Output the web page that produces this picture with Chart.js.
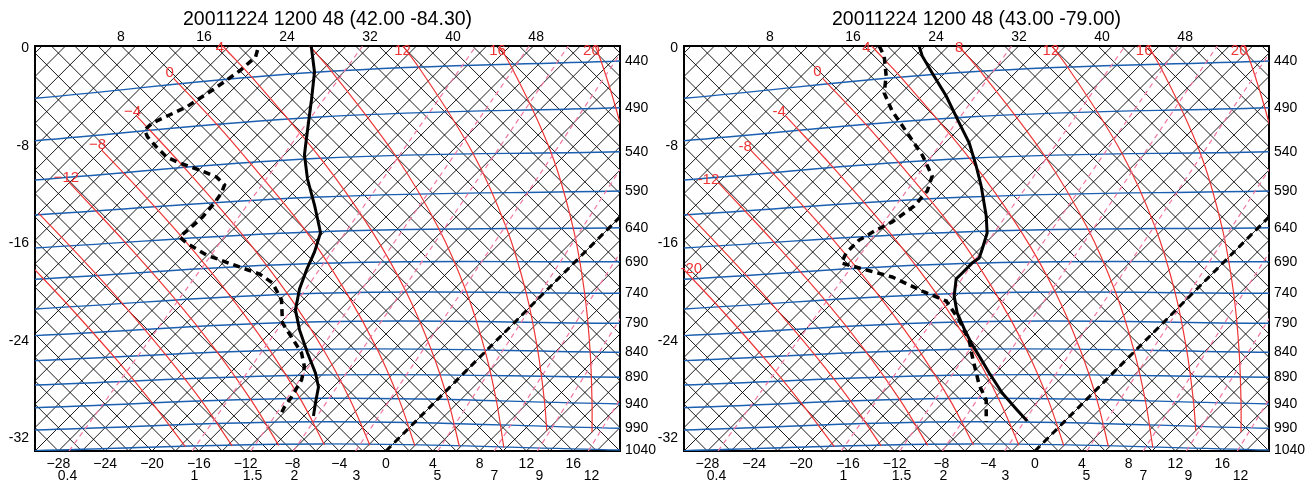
<!DOCTYPE html>
<html>
<head>
<meta charset="utf-8">
<title>Sondeos 20011224</title>
<script src="https://cdn.jsdelivr.net/npm/chart.js@4/dist/chart.umd.min.js"></script>
<style>
  body { margin: 0; background: #fff; }
  canvas { position: absolute; top: 0; }
</style>
</head>
<body>
<canvas id="graficaIzq" width="658" height="488" style="left:0"></canvas>
<canvas id="graficaDer" width="658" height="488" style="left:658px"></canvas>
<script>
// Marcas de los ejes
const ticksAbajo = [-28, -24, -20, -16, -12, -8, -4, 0, 4, 8, 12, 16];
const ticksArriba = [8, 16, 24, 32, 40, 48];
const ticksIzq = [0, -8, -16, -24, -32];

// Isobaras (hPa): altura en el borde izquierdo, en el centro y en el borde derecho
const presiones = [440, 490, 540, 590, 640, 690, 740, 790, 840, 890, 940, 990, 1040];
const xIsobara = [-30, -5.7, 20];
const isobaraIzq = [-4.11, -7.59, -10.81, -13.68, -16.38, -18.95, -21.38, -23.57, -25.62, -27.62, -29.48, -31.31, -33.0];
const isobaraMed = [-1.95, -5.64, -9.03, -12.2, -15.05, -17.64, -20.1, -22.43, -24.69, -26.8, -28.71, -30.63, -32.45];
const isobaraDer = [-1.05, -4.88, -8.49, -11.71, -14.72, -17.51, -20.1, -22.56, -24.93, -26.98, -29.17, -31.17, -32.95];

// Razon de mezcla (g/kg): rotulo, pie en el borde inferior y punto alto
const mezclaEtiquetas = ['0.4', '1', '1.5', '2', '3', '5', '7', '9', '12'];
const mezclaRotuloX = [-27.22, -16.37, -11.41, -7.82, -2.52, 4.4, 9.27, 13.12, 17.56];
const mezclaBase = [-27.09, -16.56, -11.56, -7.91, -2.59, 4.43, 9.25, 12.94, 17.29];
const mezclaCimaX = [-0.27, 9.74, 14.38, 17.76, 22.67, 29.06, 33.41, 36.74, 40.62];
const mezclaCimaY = [2.47, 2.98, 3.16, 3.27, 3.38, 3.46, 3.47, 3.46, 3.42];

// Adiabaticas humedas (curvas rojas), de 20 a -20
const humedaX = [
  [21.55, 20.6, 18.38, 16.43],
  [17.61, 17.61, 17.45, 16.98, 15.99, 14.09, 10.55, 7.81],
  [13.74, 13.55, 12.97, 11.98, 10.29, 7.44, 2.78, -0.47],
  [10.07, 9.44, 8.44, 6.9, 4.51, 0.82, -4.62, -8.15],
  [6.27, 5.3, 3.86, 1.78, -1.26, -5.56, -11.45, -13.6, -14.32],
  [2.46, 1.13, -0.74, -3.32, -6.77, -11.62, -14.44, -18.15],
  [-1.38, -3.06, -5.32, -8.31, -12.24, -17.26, -21.34],
  [-5.26, -7.26, -9.86, -13.2, -17.35, -21.38, -24.3],
  [-9.17, -11.47, -14.37, -17.94, -22.3, -27.06],
  [-13.15, -15.69, -18.82, -22.54, -26.04, -29.68],
  [-17.14, -19.92, -23.21, -27.05, -28.77, -32.2]
];
const humedaY = [
  [-14.77, -8.48, -1.05, 3.22],
  [-31.49, -29.13, -24.88, -20.11, -14.71, -8.51, -1.24, 2.9],
  [-31.35, -29.01, -24.78, -20.06, -14.73, -8.63, -1.54, 2.46],
  [-32.74, -28.93, -24.72, -20.05, -14.79, -8.82, -1.94, 1.93],
  [-32.65, -28.86, -24.7, -20.09, -14.92, -9.08, -2.4, -0.19, 0.57],
  [-32.59, -28.84, -24.71, -20.17, -15.1, -9.41, -6.27, -2.47],
  [-32.55, -28.84, -24.77, -20.29, -15.33, -9.77, -5.53],
  [-32.54, -28.86, -24.86, -20.47, -15.6, -11.31, -8.36],
  [-32.57, -28.94, -24.98, -20.67, -15.92, -11.02],
  [-32.61, -29.03, -25.15, -20.92, -17.22, -13.54],
  [-32.68, -29.17, -25.34, -21.19, -19.42, -15.96]
];

// Rotulos rojos [texto, x, y]
const rotulosIzq = [['4', -14.2, 0.02], ['0', -18.5, -2.03], ['\u22124', -21.67, -5.23], ['\u22128', -24.66, -7.94],
  ['\u221212', -27.31, -10.64], ['12', 1.41, -0.23], ['16', 9.53, -0.23], ['20', 17.56, -0.23]];
const rotulosDer = [['4', -14.4, 0.02], ['8', -6.48, 0.02], ['0', -18.59, -1.95], ['-4', -21.86, -5.21], ['-8', -24.77, -8.08],
  ['-12', -27.91, -10.81], ['-20', -29.38, -18.1], ['12', 1.36, -0.23], ['16', 9.33, -0.23], ['20', 17.45, -0.23]];

// Sondeo (42.00 -84.30): temperatura y punto de rocio
const tempIzqX = [-6.39, -6.11, -6.37, -6.54, -6.88, -6.97, -6.71, -6.11, -5.68, -5.6, -6.11, -6.79, -7.39, -7.74, -7.39, -6.71, -6.03, -5.77, -6.03, -6.2];
const tempIzqY = [0.18, -1.95, -4.25, -5.48, -8.02, -8.76, -10.73, -12.86, -14.74, -15.15, -16.71, -18.18, -19.74, -21.46, -23.1, -24.99, -26.63, -27.78, -29.09, -30.16];
const rocioIzqX = [-10.98, -11.15, -12.52, -14.83, -17.05, -19.96, -20.64, -20.38, -19.62, -18.76, -17.65, -15.94, -14.49, -13.8, -14.06, -14.66, -15.68, -16.62, -17.65, -17.05, -15.34, -12.52, -10.81, -9.7, -8.93, -8.85, -8.08, -7.22, -6.97, -7.22, -8.08, -8.68, -8.93];
const rocioIzqY = [-0.15, -0.72, -1.87, -3.43, -4.82, -6.13, -6.71, -7.28, -8.1, -8.92, -9.41, -9.99, -10.56, -11.21, -11.87, -12.69, -13.84, -14.66, -15.48, -15.97, -16.96, -17.94, -18.52, -19.25, -20.64, -22.53, -23.68, -24.99, -26.14, -27.21, -28.6, -29.42, -29.91];

// Sondeo (43.00 -79.00)
const tempDerX = [-9.9, -9.64, -8.79, -7.59, -6.48, -5.62, -5.03, -4.6, -4.17, -4.09, -4.51, -4.77, -5.37, -6.22, -6.74, -6.91, -6.65, -6.05, -5.45, -4.77, -3.91, -2.8, -1.61, -0.67];
const tempDerY = [0.18, -0.64, -2.03, -3.92, -6.13, -7.77, -9.66, -11.3, -13.76, -15.15, -16.46, -17.2, -17.61, -18.43, -18.92, -20.32, -21.71, -23.02, -24.17, -25.24, -26.63, -28.27, -29.58, -30.57];
const rocioDerX = [-13.32, -12.89, -12.72, -12.89, -12.21, -10.92, -9.64, -8.79, -9.21, -10.32, -12.21, -13.57, -15.03, -16.14, -16.56, -15.03, -12.21, -9.47, -7.59, -6.48, -5.62, -5.37, -4.77, -4.17, -4.17];
const rocioDerY = [0.18, -0.64, -2.28, -3.67, -5.15, -6.95, -8.76, -10.48, -11.71, -12.94, -14.25, -14.91, -15.73, -16.79, -17.61, -18.02, -18.76, -19.99, -20.73, -22.29, -23.93, -25.24, -27.62, -28.85, -30.65];

const X_MIN = -30, X_MAX = 20, Y_MIN = -33.03, Y_MAX = 0.18;
const SESGO = 1.042; // unidades de x por unidad de y en la rejilla a 45 grados
const ALTO = Y_MAX - Y_MIN;
const AZUL = '#1b5fb0', ROJO = '#ee3434', ROSA = '#f2789f';

Chart.defaults.font.family = '"Liberation Sans", Arial, Helvetica, sans-serif';
Chart.defaults.font.size = 14;
Chart.defaults.color = '#000';

function puntos(xs, ys) {
  return xs.map((x, i) => ({x: x, y: ys[i]}));
}

function linea(data, color, ancho, orden, extra) {
  return Object.assign({data: data, showLine: true, borderColor: color, borderWidth: ancho,
    pointRadius: 0, fill: false, tension: 0, order: orden}, extra || {});
}

//Lineas de fondo comunes a los dos diagramas
function fondo() {
  const ds = [];
  for (let t = -66; t <= 20; t += 2) {
    ds.push(linea([{x: t, y: Y_MIN}, {x: t + SESGO * ALTO, y: Y_MAX}], '#000', 0.9, 9));
  }
  for (let th = -32; th <= 56; th += 2) {
    ds.push(linea([{x: th, y: Y_MIN}, {x: th - SESGO * ALTO, y: Y_MAX}], '#000', 0.9, 9));
  }
  presiones.forEach((p, i) => {
    ds.push(linea(puntos(xIsobara, [isobaraIzq[i], isobaraMed[i], isobaraDer[i]]), AZUL, 1.4, 7, {tension: 0.4}));
  });
  humedaX.forEach((xs, i) => {
    ds.push(linea(puntos(xs, humedaY[i]), ROJO, 1.2, 6, {tension: 0.35}));
  });
  mezclaBase.forEach((xb, i) => {
    ds.push(linea([{x: xb, y: Y_MIN}, {x: mezclaCimaX[i], y: mezclaCimaY[i]}], ROSA, 1.2, 5, {borderDash: [5, 4]}));
  });
  // isoterma de 0
  ds.push(linea([{x: 0, y: Y_MIN}, {x: SESGO * ALTO, y: Y_MAX}], '#000', 3, 2, {borderDash: [7, 5]}));
  return ds;
}

const rotulosRojos = {
  id: 'rotulosRojos',
  afterDatasetsDraw(chart, args, opts) {
    const ctx = chart.ctx, x = chart.scales.x, y = chart.scales.y;
    ctx.save();
    ctx.font = '15px "Liberation Sans", Arial, sans-serif';
    ctx.fillStyle = ROJO;
    ctx.textAlign = 'center';
    ctx.textBaseline = 'middle';
    opts.lista.forEach(r => ctx.fillText(r[0], x.getPixelForValue(r[1]), y.getPixelForValue(r[2])));
    ctx.restore();
  }
};

function menos(v) {
  return v < 0 ? '\u2212' + Math.abs(v) : String(v);
}

function crearGrafica(id, titulo, anchoIzq, anchoDer, temp, rocio, rotulos) {
  const sinRejilla = {display: false, drawTicks: false};
  const borde = {display: true, color: '#000', width: 2};
  new Chart(document.getElementById(id), {
    type: 'scatter',
    data: {
      datasets: fondo().concat([
        linea(temp, '#000', 3, 0),
        linea(rocio, '#000', 3.5, 1, {borderDash: [7, 5]})
      ])
    },
    options: {
      responsive: false,
      animation: false,
      layout: {padding: 0},
      plugins: {legend: {display: false}, tooltip: {enabled: false}, rotulosRojos: {lista: rotulos}},
      scales: {
        x: {
          type: 'linear', axis: 'x', position: 'bottom', min: X_MIN, max: X_MAX, weight: 0,
          afterBuildTicks: s => { s.ticks = ticksAbajo.map(v => ({value: v})); },
          afterFit: s => { s.height = 17; },
          ticks: {callback: v => menos(v), padding: 5, autoSkip: false, maxRotation: 0},
          grid: sinRejilla, border: borde
        },
        xm: {
          type: 'linear', axis: 'x', position: 'bottom', min: X_MIN, max: X_MAX, weight: 1,
          afterBuildTicks: s => { s.ticks = mezclaRotuloX.map(v => ({value: v})); },
          afterFit: s => { s.height = 20; },
          ticks: {callback: (v, i) => mezclaEtiquetas[i], padding: 0, autoSkip: false, maxRotation: 0},
          grid: sinRejilla, border: {display: false}
        },
        x2: {
          type: 'linear', axis: 'x', position: 'top', min: -0.28, max: 56.08,
          afterBuildTicks: s => { s.ticks = ticksArriba.map(v => ({value: v})); },
          afterFit: s => { s.height = 46; },
          ticks: {padding: 0, autoSkip: false, maxRotation: 0},
          title: {display: true, text: titulo, font: {size: 19.5}, padding: {top: 8, bottom: 0}},
          grid: sinRejilla, border: borde
        },
        y: {
          type: 'linear', axis: 'y', position: 'left', min: Y_MIN, max: Y_MAX,
          afterBuildTicks: s => { s.ticks = ticksIzq.map(v => ({value: v})); },
          afterFit: s => { s.width = anchoIzq; },
          ticks: {padding: 6, autoSkip: false},
          grid: sinRejilla, border: borde
        },
        y2: {
          type: 'linear', axis: 'y', position: 'right', min: Y_MIN, max: Y_MAX,
          afterBuildTicks: s => { s.ticks = isobaraDer.map(v => ({value: v})); },
          afterFit: s => { s.width = anchoDer; },
          ticks: {callback: (v, i) => String(presiones[i]), padding: 5, autoSkip: false},
          grid: sinRejilla, border: borde
        }
      }
    },
    plugins: [rotulosRojos]
  });
}

crearGrafica('graficaIzq', '20011224 1200 48 (42.00 -84.30)', 35, 38,
  puntos(tempIzqX, tempIzqY), puntos(rocioIzqX, rocioIzqY), rotulosIzq);
crearGrafica('graficaDer', '20011224 1200 48 (43.00 -79.00)', 26, 47,
  puntos(tempDerX, tempDerY), puntos(rocioDerX, rocioDerY), rotulosDer);
</script>
</body>
</html>
